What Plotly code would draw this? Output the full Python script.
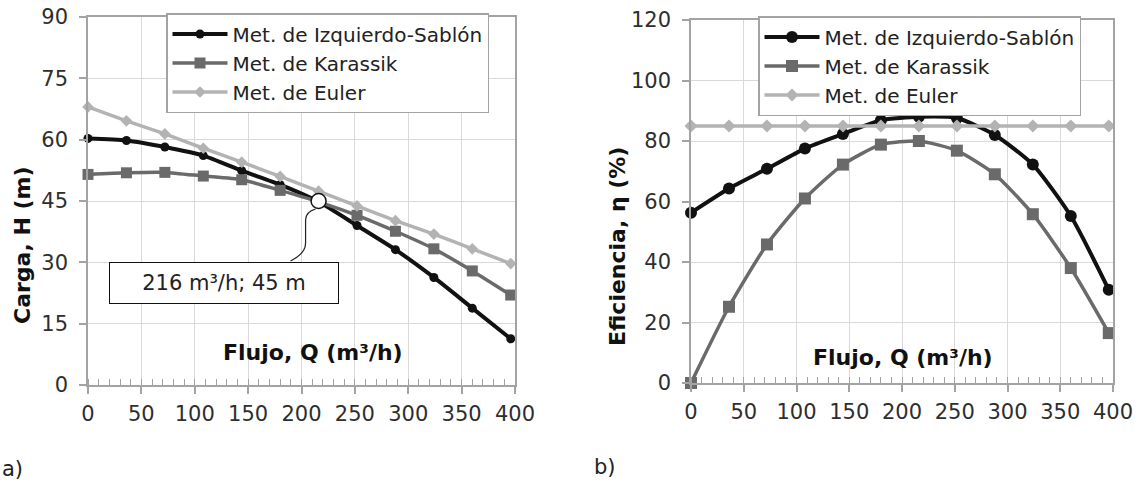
import plotly.graph_objects as go

# ---------------- data ----------------
Q = [0, 36, 72, 108, 144, 180, 216, 252, 288, 324, 360, 396]

H_izquierdo = [60.3, 59.8, 58.2, 56.1, 52.4, 49.0, 44.8, 39.0, 33.1, 26.3, 18.8, 11.3]
H_karassik = [51.5, 51.9, 52.0, 51.1, 50.2, 47.6, 44.8, 41.5, 37.6, 33.3, 27.9, 22.0]
H_euler = [68.0, 64.6, 61.4, 57.9, 54.5, 51.0, 47.4, 43.8, 40.2, 36.9, 33.3, 29.7]

E_izquierdo = [56.3, 64.3, 70.8, 77.5, 82.3, 86.9, 88.0, 87.6, 82.0, 72.2, 55.2, 30.8]
E_karassik = [0.0, 25.2, 45.8, 61.0, 72.2, 78.8, 80.0, 76.8, 69.0, 55.8, 38.0, 16.5]
E_euler = [85, 85, 85, 85, 85, 85, 85, 85, 85, 85, 85, 85]

PUNTO_Q = [216]
PUNTO_H = [45]
PUNTO_TEXTO = "216 m³/h; 45 m"

NOMBRES = ["Met. de Izquierdo-Sablón", "Met. de Karassik", "Met. de Euler"]
X_TICKS = [0, 50, 100, 150, 200, 250, 300, 350, 400]
H_TICKS = [0, 15, 30, 45, 60, 75, 90]
E_TICKS = [0, 20, 40, 60, 80, 100, 120]

# ---------------- styling ----------------
FONT = "Verdana, DejaVu Sans, sans-serif"
COLORS = ["#111111", "#6a6a6a", "#b3b3b3"]
GRID = "#d9d9d9"
AXIS = "#a3a3a3"
TICKC = "#2e2e2e"

W, Hgt = 1138, 482

fig = go.Figure()

left_sets = [H_izquierdo, H_karassik, H_euler]
right_sets = [E_izquierdo, E_karassik, E_euler]
left_markers = [dict(symbol="circle", size=9), dict(symbol="square", size=11), dict(symbol="diamond", size=9)]
right_markers = [dict(symbol="circle", size=12), dict(symbol="square", size=12), dict(symbol="diamond", size=10)]
widths = [4, 3.5, 3.5]

for i, ys in enumerate(left_sets):
    fig.add_trace(go.Scatter(
        x=Q, y=ys, name=NOMBRES[i], mode="lines+markers",
        line=dict(color=COLORS[i], width=widths[i], shape="spline", smoothing=0.6),
        marker=dict(color=COLORS[i], **left_markers[i]),
        xaxis="x", yaxis="y", legend="legend", legendgroup=f"l{i}",
        cliponaxis=False,
    ))

fig.add_trace(go.Scatter(
    x=PUNTO_Q, y=PUNTO_H, mode="markers", showlegend=False,
    marker=dict(symbol="circle", size=15, color="white", line=dict(color="#111111", width=1.5)),
    xaxis="x", yaxis="y", cliponaxis=False,
))

for i, ys in enumerate(right_sets):
    fig.add_trace(go.Scatter(
        x=Q, y=ys, name=NOMBRES[i], mode="lines+markers",
        line=dict(color=COLORS[i], width=widths[i], shape="spline", smoothing=0.6),
        marker=dict(color=COLORS[i], **right_markers[i]),
        xaxis="x2", yaxis="y2", legend="legend2", legendgroup=f"r{i}",
        cliponaxis=False,
    ))


def xax(domain, anchor):
    return dict(
        domain=domain, anchor=anchor, range=[0, 400], tickvals=X_TICKS,
        showgrid=True, gridcolor=GRID, gridwidth=1,
        showline=True, linecolor=AXIS, linewidth=1.5, mirror=True,
        ticks="outside", ticklen=7, tickcolor=AXIS, tickwidth=1.5,
        minor=dict(ticks="inside", dtick=10, ticklen=6, tickcolor=AXIS, tickwidth=1, showgrid=False),
        tickfont=dict(family=FONT, size=21, color=TICKC),
        ticklabelstandoff=2, zeroline=False, fixedrange=True, automargin=False,
    )


def yax(domain, anchor, rng, vals):
    return dict(
        domain=domain, anchor=anchor, range=rng, tickvals=vals,
        showgrid=True, gridcolor=GRID, gridwidth=1,
        showline=True, linecolor=AXIS, linewidth=1.5, mirror=True,
        ticks="outside", ticklen=7, tickcolor=AXIS, tickwidth=1.5,
        tickfont=dict(family=FONT, size=21, color=TICKC),
        ticklabelstandoff=7, zeroline=False, fixedrange=True, automargin=False,
    )


leg_common = dict(
    xanchor="left", yanchor="top", bgcolor="white", bordercolor=AXIS, borderwidth=1.5,
    font=dict(family=FONT, size=20, color="#222222"), itemwidth=55,
    traceorder="grouped", itemclick=False, tracegroupgap=0,
)

fig.update_layout(
    width=W, height=Hgt, margin=dict(l=0, r=0, t=0, b=0, pad=0, autoexpand=False),
    paper_bgcolor="white", plot_bgcolor="white",
    font=dict(family=FONT, color="#111111"),
    xaxis=xax([88 / W, 515 / W], "y"),
    yaxis=yax([1 - 385 / Hgt, 1 - 17 / Hgt], "x", [0, 90], H_TICKS),
    xaxis2=xax([691 / W, 1113 / W], "y2"),
    yaxis2=yax([1 - 383 / Hgt, 1 - 20 / Hgt], "x2", [0, 120], E_TICKS),
    legend=dict(x=166 / W, y=1 - 13 / Hgt, **leg_common),
    legend2=dict(x=758 / W, y=1 - 16 / Hgt, **leg_common),
    showlegend=True,
)

title_font = dict(family=FONT, size=22, color="#111111", weight="bold")

annotations = [
    dict(text="<b>Flujo, Q (m³/h)</b>", x=313 / W, y=1 - 352 / Hgt, xref="paper", yref="paper",
         showarrow=False, font=title_font, xanchor="center", yanchor="middle"),
    dict(text="<b>Flujo, Q (m³/h)</b>", x=903 / W, y=1 - 357 / Hgt, xref="paper", yref="paper",
         showarrow=False, font=title_font, xanchor="center", yanchor="middle"),
    dict(text="<b>Carga, H (m)</b>", x=22 / W, y=1 - 245 / Hgt, xref="paper", yref="paper",
         showarrow=False, font=title_font, textangle=-90, xanchor="center", yanchor="middle"),
    dict(text="<b>Eficiencia, η (%)</b>", x=618 / W, y=1 - 247 / Hgt, xref="paper", yref="paper",
         showarrow=False, font=title_font, textangle=-90, xanchor="center", yanchor="middle"),
    dict(text="a)", x=0, y=1 - 469 / Hgt, xref="paper", yref="paper", showarrow=False,
         font=dict(family=FONT, size=21, color="#222222"), xanchor="left", yanchor="middle"),
    dict(text="b)", x=605 / W, y=1 - 467 / Hgt, xref="paper", yref="paper", showarrow=False,
         font=dict(family=FONT, size=21, color="#222222"), xanchor="center", yanchor="middle"),
    dict(text=PUNTO_TEXTO, x=PUNTO_Q[0], y=PUNTO_H[0], xref="x", yref="y",
         showarrow=True, arrowcolor="rgba(0,0,0,0)", arrowwidth=0.1, ax=-95, ay=82,
         width=226, height=38, bordercolor="#111111", borderwidth=1, borderpad=1,
         bgcolor="white", font=dict(family=FONT, size=21, color="#222222")),
]
fig.update_layout(annotations=annotations)

# curved leader line from the label box to the intersection point
fig.add_shape(
    type="path", xref="x", yref="y", xsizemode="pixel", ysizemode="pixel",
    xanchor=PUNTO_Q[0], yanchor=PUNTO_H[0],
    path="M -3 -8 C -10 -10 -13 -14 -13 -19 L -13 -42 C -13 -50 -20 -56 -28 -60",
    line=dict(color="#222222", width=1.2), layer="above",
)

fig.write_html("out.html", config={"displayModeBar": False},
               post_script="document.body.style.margin='0';")
